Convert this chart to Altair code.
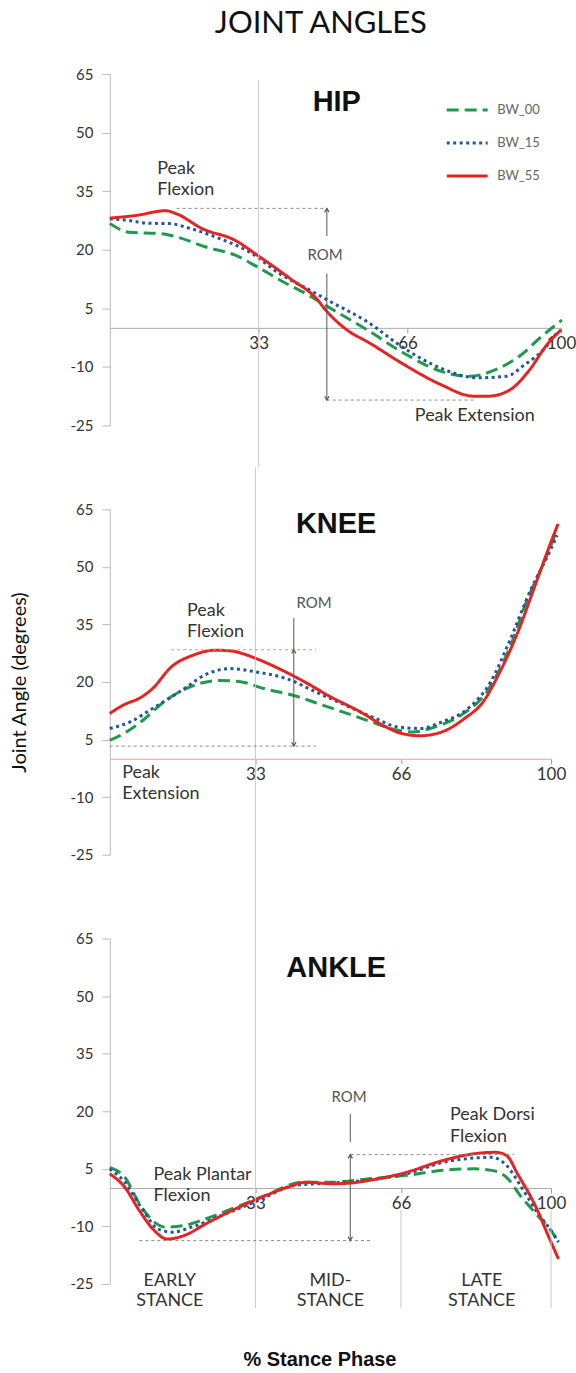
import altair as alt
import pandas as pd

FONT = "Lato"
SERIES = ["BW_00", "BW_15", "BW_55"]
SERIES_COLORS = ["#1f9a4c", "#1f56a3", "#e52421"]
SERIES_DASH = [[12, 6], [3, 3.5], [1, 0]]
Y_TICKS = [-25, -10, 5, 20, 35, 50, 65]
X_TICKS = [33, 66, 100]

# ---------------- data (% stance, degrees) ----------------
hip_bw00_x = [0, 4.2, 11.5, 14.8, 21.3, 27.8, 32.7, 38.4, 44, 48.9, 57, 65.2, 73.3, 79.8, 85.5, 91.2, 95.3, 100.2]
hip_bw00_y = [26.7, 24.5, 24.1, 23.3, 20.7, 18.6, 15.6, 11.8, 8.4, 5.0, -0.5, -6.5, -11.1, -12.4, -10.7, -6.9, -2.6, 2.0]
hip_bw15_x = [0, 4.2, 8.3, 13.2, 18, 24.5, 31, 37.6, 44.9, 48.9, 57, 65.2, 73.3, 81.5, 87.9, 92, 96.1, 99.3]
hip_bw15_y = [27.9, 27.5, 26.8, 26.7, 25.4, 22.8, 19.4, 13.9, 9.3, 6.7, 1.6, -5.2, -10.3, -12.8, -12.4, -9.4, -5.6, -0.9]
hip_bw55_x = [0, 5.9, 12.4, 14.8, 20.5, 27.8, 32.7, 40, 45.7, 48.1, 53, 57, 65.2, 73.3, 80.6, 83.9, 88.8, 92.8, 96.9, 100]
hip_bw55_y = [28.1, 28.8, 30.0, 29.2, 25.4, 22.4, 18.6, 12.6, 7.6, 4.2, -0.9, -3.5, -9.4, -14.5, -17.5, -17.5, -15.8, -11.1, -4.3, -0.5]

knee_bw00_x = [0, 3.8, 8, 12.2, 18.1, 24.8, 29.9, 34.9, 41.7, 48.4, 55.1, 59.3, 63.6, 68.6, 73.7, 79.5, 85.4, 90.5, 94.7, 98.1, 101]
knee_bw00_y = [4.8, 7.0, 10.5, 14.8, 18.7, 20.4, 20.0, 18.3, 16.5, 13.9, 11.3, 9.6, 7.9, 7.0, 8.3, 11.3, 17.4, 28.6, 41.7, 50.4, 58.6]
knee_bw15_x = [0, 4.6, 9.7, 16.4, 21.5, 27.4, 33.2, 40, 46.7, 53.5, 60.2, 65.2, 70.3, 75.3, 81.2, 86.3, 90.5, 95.5, 98.9, 101.4]
knee_bw15_y = [7.9, 9.6, 13.1, 17.9, 21.8, 23.5, 22.6, 20.9, 17.4, 13.9, 10.5, 8.3, 7.9, 9.6, 13.1, 20.0, 30.4, 44.3, 52.1, 58.2]
knee_bw55_x = [0, 2.9, 7.2, 9.7, 13.9, 18.9, 24, 27.4, 33.2, 38.3, 44.2, 50.1, 56.8, 61.9, 66.1, 70.3, 75.3, 80.4, 84.6, 88, 92.2, 96.4, 99.7, 101.6]
knee_bw55_y = [11.8, 13.9, 16.1, 18.3, 23.9, 27.0, 28.3, 28.1, 26.1, 23.5, 20.0, 16.1, 12.2, 8.7, 6.6, 6.0, 7.0, 10.5, 14.8, 21.7, 32.2, 45.2, 55.6, 61.2]

ankle_bw00_x = [0, 3.4, 6.7, 10.1, 12.6, 16.8, 21.8, 28.6, 35.3, 43.7, 50.4, 58.8, 67.2, 75.6, 82.4, 86.6, 89.9, 93.3, 96.6, 100, 101.7]
ankle_bw00_y = [5.4, 2.8, -4.1, -8.9, -10.2, -9.8, -8.0, -5.0, -1.9, 1.5, 1.5, 2.4, 3.3, 4.6, 5.0, 4.6, 2.8, -2.4, -6.7, -11.1, -14.1]
ankle_bw15_x = [0, 3.4, 7.6, 10.9, 14.3, 18.5, 25.2, 33.6, 42, 50.4, 58.8, 67.2, 75.6, 82.4, 86.6, 89.9, 93.3, 96.6, 100, 101.7]
ankle_bw15_y = [5.0, 1.5, -5.9, -10.7, -11.5, -10.2, -7.2, -3.3, 0.7, 1.3, 2.1, 3.7, 6.7, 7.8, 8.0, 5.9, 0.2, -5.9, -11.1, -14.1]
ankle_bw55_x = [0, 3.4, 6.7, 10.1, 13, 16.8, 21.8, 26.9, 33.6, 40.3, 44.5, 50.4, 54.6, 58.8, 67.2, 75.6, 82.4, 87.4, 89.9, 92.4, 96.6, 99.2, 101.7]
ankle_bw55_y = [3.7, 0.2, -5.9, -11.1, -13.3, -12.4, -9.3, -6.3, -2.8, 0.2, 1.5, 1.1, 1.3, 2.0, 4.1, 7.2, 8.9, 9.3, 8.5, 3.7, -5.0, -12.0, -18.5]

# ---------------- annotations (data coordinates) ----------------
hip_notes = {"label": ["Peak", "Flexion", "Peak Extension"], "pct": [10.5, 10.5, 67.6], "angle": [40.7, 35.3, -22.6]}
hip_rom = {"label": ["ROM"], "pct": [47.7], "angle": [18.6]}
hip_dash = {"pct": [14.8, 48.1], "pct2": [48.1, 80.6], "angle": [30.6, -18.5]}
hip_arrow = {"pct": [48.1, 48.1], "angle": [30.6, 13.9], "angle2": [23.5, -18.5]}
hip_heads = {"pct": [48.1, 48.1], "angle": [30.6, -18.5], "dir": ["up", "down"]}
hip_grid = {"pct": [33], "angle": [63.5], "angle2": [-35.7]}

knee_notes = {"label": ["Peak", "Flexion", "Peak", "Extension"], "pct": [17.5, 17.5, 2.8, 2.8], "angle": [38.6, 33.1, -3.8, -9.2]}
knee_rom = {"label": ["ROM"], "pct": [46.3], "angle": [40.6]}
knee_dash_top = {"pct": [13.9], "pct2": [46.7], "angle": [28.4]}
knee_dash = {"pct": [0], "pct2": [46.7], "angle": [3.3]}
knee_arrow = {"pct": [41.7], "angle": [36.7], "angle2": [3.3]}
knee_heads = {"pct": [41.7, 41.7], "angle": [28.4, 3.3], "dir": ["up", "down"]}
knee_grid = {"pct": [33], "angle": [75.9], "angle2": [-36.2]}

ankle_notes = {"label": ["Peak Plantar", "Flexion", "Peak Dorsi", "Flexion"], "pct": [9.9, 9.9, 77.1, 77.1], "angle": [3.3, -2.2, 18.9, 13.3]}
ankle_rom = {"label": ["ROM"], "pct": [54.2], "angle": [23.7]}
ankle_dash = {"pct": [6.7, 54.6], "pct2": [59.7, 91.6], "angle": [-13.7, 8.7]}
ankle_arrow = {"pct": [54.5, 54.5], "angle": [19.3, 8.7], "angle2": [12.0, -13.7]}
ankle_heads = {"pct": [54.5, 54.5], "angle": [8.7, -13.7], "dir": ["up", "down"]}
ankle_grid = {"pct": [33, 66, 100], "angle": [76.2, -5.7, -5.7], "angle2": [-31.2, -31.2, -31.2]}
stance_labels = {"label": ["EARLY", "STANCE", "MID-", "STANCE", "LATE", "STANCE"],
                 "pct": [13.6, 13.6, 50.0, 50.0, 84.3, 84.3], "angle": [-24.2, -29.4, -24.2, -29.4, -24.2, -29.4]}

panel_titles = {"HIP": (50.3, 57.8), "KNEE": (51.3, 61.2), "ANKLE": (51.3, 57.2)}

# ---------------- layout ----------------
HEAD_UP = "M -0.7 1.2 L 0 0 L 0.7 1.2"
HEAD_DOWN = "M -0.7 -1.2 L 0 0 L 0.7 -1.2"


def lines_df(xs_list, ys_list):
    frames = []
    for name, xs, ys in zip(SERIES, xs_list, ys_list):
        frames.append(pd.DataFrame({"pct": xs, "angle": ys, "series": name}))
    return pd.concat(frames, ignore_index=True)


def panel(name, data, width, height, notes, rom, dashes, arrow, heads, grid, with_legend=False,
          ytitle=None, xtitle=None, extra=None, zero_color="#aaaaaa"):
    xs = alt.Scale(domain=[0, 100], nice=False, zero=False)
    ys = alt.Scale(domain=[-25, 65], nice=False, zero=False)

    x_axis_kw = dict(values=X_TICKS, offset=-height * 25 / 90, grid=False, domainColor=zero_color,
                     tickColor="#999999", tickSize=5, labelFont=FONT, labelFontSize=17,
                     labelColor="#333333", labelPadding=3, labelFlush=False, title=xtitle)
    if xtitle:
        x_axis_kw.update(titleFont="Liberation Sans", titleFontSize=20, titleFontWeight="bold",
                         titleColor="#111111", titlePadding=138, titleX=210, titleAlign="center")
    y_axis_kw = dict(values=Y_TICKS, grid=False, domainColor="#bbbbbb", tickColor="#bbbbbb",
                     tickSize=8, labelPadding=9, labelFont=FONT, labelFontSize=15,
                     labelColor="#333333", labelExpr="'' + datum.value", title=ytitle)
    if ytitle:
        y_axis_kw.update(titleFont=FONT, titleFontSize=20, titleFontWeight="normal",
                         titleColor="#111111", titlePadding=40)

    if with_legend:
        leg = alt.Legend(orient="none", legendX=336, legendY=14, title=None, symbolType="stroke",
                         symbolSize=1681, symbolStrokeWidth=3, labelFont=FONT, labelFontSize=13,
                         labelColor="#666666", labelOffset=8, rowPadding=4, padding=0)
    else:
        leg = None

    X = alt.X("pct:Q", scale=xs)
    Y = alt.Y("angle:Q", scale=ys)

    lines = alt.Chart(data).mark_line(strokeWidth=3, interpolate="monotone").encode(
        x=alt.X("pct:Q", scale=xs, axis=alt.Axis(**x_axis_kw)),
        y=alt.Y("angle:Q", scale=ys, axis=alt.Axis(**y_axis_kw)),
        color=alt.Color("series:N", scale=alt.Scale(domain=SERIES, range=SERIES_COLORS), legend=leg),
        strokeDash=alt.StrokeDash("series:N", scale=alt.Scale(domain=SERIES, range=SERIES_DASH), legend=leg),
    )

    grid_l = alt.Chart(pd.DataFrame(grid)).mark_rule(color="#c8c8c8", strokeWidth=1).encode(
        x=X, y=Y, y2="angle2:Q")
    dash_l = alt.Chart(pd.DataFrame(dashes)).mark_rule(color="#8a8a8a", strokeWidth=1, strokeDash=[3, 3]).encode(
        x=X, x2="pct2:Q", y=Y)
    arrow_l = alt.Chart(pd.DataFrame(arrow)).mark_rule(color="#555555", strokeWidth=1).encode(
        x=X, y=Y, y2="angle2:Q")
    head_l = alt.Chart(pd.DataFrame(heads)).mark_point(color="#555555", filled=False, size=40, strokeWidth=1.2, opacity=1).encode(
        x=X, y=Y,
        shape=alt.Shape("dir:N", scale=alt.Scale(domain=["up", "down"], range=[HEAD_UP, HEAD_DOWN]), legend=None))
    notes_l = alt.Chart(pd.DataFrame(notes)).mark_text(align="left", baseline="middle", font=FONT, fontSize=18, color="#333333").encode(
        x=X, y=Y, text="label:N")
    rom_l = alt.Chart(pd.DataFrame(rom)).mark_text(align="center", baseline="middle", font=FONT, fontSize=15, color="#555555").encode(
        x=X, y=Y, text="label:N")
    tx, ty = panel_titles[name]
    title_l = alt.Chart(pd.DataFrame({"label": [name], "pct": [tx], "angle": [ty]})).mark_text(
        align="center", baseline="middle", font="Liberation Sans", fontSize=29, fontWeight="bold", color="#111111").encode(
        x=X, y=Y, text="label:N")

    layers = [lines, grid_l, dash_l]
    if extra is not None:
        layers += extra(X, Y)
    layers += [arrow_l, head_l, notes_l, rom_l, title_l]
    return alt.layer(*layers).properties(width=width, height=height)


def knee_extra(X, Y):
    return [alt.Chart(pd.DataFrame(knee_dash_top)).mark_rule(color="#e08a8a", strokeWidth=1, strokeDash=[3, 3]).encode(
        x=X, x2="pct2:Q", y=Y)]


def ankle_extra(X, Y):
    return [alt.Chart(pd.DataFrame(stance_labels)).mark_text(align="center", baseline="middle", font=FONT, fontSize=18, color="#333333").encode(
        x=X, y=Y, text="label:N")]


hip = panel("HIP", lines_df([hip_bw00_x, hip_bw15_x, hip_bw55_x], [hip_bw00_y, hip_bw15_y, hip_bw55_y]), 452, 352,
            hip_notes, hip_rom, hip_dash, hip_arrow, hip_heads, hip_grid, with_legend=True)
knee = panel("KNEE", lines_df([knee_bw00_x, knee_bw15_x, knee_bw55_x], [knee_bw00_y, knee_bw15_y, knee_bw55_y]), 442, 346,
             knee_notes, knee_rom, knee_dash, knee_arrow, knee_heads, knee_grid,
             ytitle="Joint Angle (degrees)", extra=knee_extra, zero_color="#e8a0a0")
ankle = panel("ANKLE", lines_df([ankle_bw00_x, ankle_bw15_x, ankle_bw55_x], [ankle_bw00_y, ankle_bw15_y, ankle_bw55_y]), 442, 346,
              ankle_notes, ankle_rom, ankle_dash, ankle_arrow, ankle_heads, ankle_grid,
              xtitle="% Stance Phase", extra=ankle_extra)

chart = alt.vconcat(hip, knee, ankle, spacing=84, bounds="flush").resolve_scale(
    x="independent", y="independent"
).resolve_legend(color="independent", strokeDash="independent").properties(
    title=alt.TitleParams("JOINT ANGLES", font=FONT, fontSize=31, fontWeight="normal", color="#111111",
                          anchor="middle", offset=27, dx=28),
    padding={"left": 10, "top": 7, "right": 0, "bottom": 0},
).configure_view(stroke=None)

chart.save("out.html", embed_options={"renderer": "svg", "actions": False})
